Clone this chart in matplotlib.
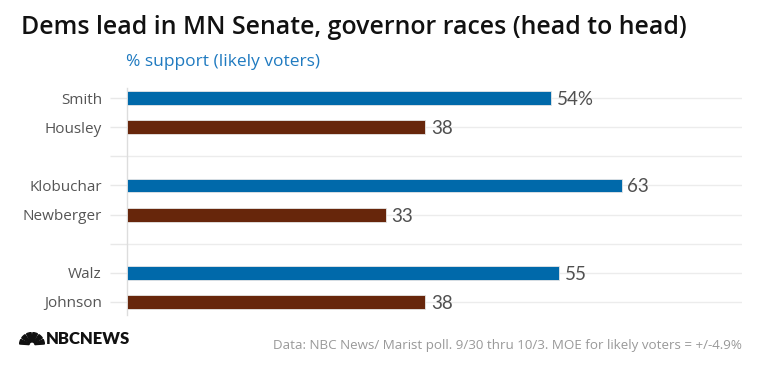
import matplotlib.pyplot as plt
from matplotlib.patches import Wedge
import numpy as np

# data
names = ['Smith', 'Housley', '', 'Klobuchar', 'Newberger', '', 'Walz', 'Johnson']
support = [54, 38, None, 63, 33, None, 55, 38]
party = ['D', 'R', None, 'D', 'R', None, 'D', 'R']
value_labels = ['54%', '38', '', '63', '33', '', '55', '38']

colors = {'D': '#0069aa', 'R': '#67260b'}

plt.rcParams['font.family'] = ['Open Sans', 'DejaVu Sans']

fig = plt.figure(figsize=(7.6, 3.71), dpi=100)
ax = fig.add_axes([127 / 760, 1 - 315 / 371, 615 / 760, 227 / 371])

ind = np.arange(len(names))
for i, v in enumerate(support):
    if v is None:
        continue
    ax.barh(i, v, height=0.48, color=colors[party[i]], edgecolor='#e6e6e6',
            linewidth=0.6, zorder=3)
    ax.text(v + 0.7, i + 0.05, value_labels[i], va='center', ha='left',
            fontsize=13.5, color='#505050', zorder=4,
            family=['Lato', 'DejaVu Sans'])

# Formatting
ax.set_xlim(0, 78.3)
ax.set_ylim(7.45, -0.35)
ax.set_yticks(ind)
ax.set_yticklabels(names, fontsize=11, color='#555555')
ax.tick_params(axis='y', length=12.5, color='#e8e8e8', width=1, pad=5.5)
ax.set_xticks([])
ax.grid(axis='y', color='#ececec', linewidth=1, zorder=0)
for side in ['top', 'right', 'bottom']:
    ax.spines[side].set_visible(False)
ax.spines['left'].set_color('#dddddd')
ax.spines['left'].set_linewidth(1)

# Titles
fig.text(21 / 760, 1 - 27 / 371, 'Dems lead in MN Senate, governor races (head to head)',
         fontsize=17.9, fontweight='semibold', color='#111111', va='center', ha='left')
fig.text(126 / 760, 1 - 62 / 371, '% support (likely voters)',
         fontsize=12.5, color='#1f7ac0', va='center', ha='left')

# Footer
fig.text(742 / 760, 1 - 345 / 371,
         'Data: NBC News/ Marist poll. 9/30 thru 10/3. MOE for likely voters = +/-4.9%',
         fontsize=9.6, color='#999999', va='center', ha='right')
fig.text(46 / 760, 1 - 339 / 371, 'NBCNEWS', fontsize=12, fontweight='heavy',
         color='#111111', va='center', ha='left', fontstretch='condensed',
         family=['Lato', 'DejaVu Sans'])

# peacock
logo = fig.add_axes([19 / 760, 1 - 346 / 371, 26 / 760, 14 / 371])
logo.set_xlim(-1.1, 1.1)
logo.set_ylim(-0.1, 1.1)
logo.axis('off')
for k in range(6):
    a0 = 180 - k * 30
    logo.add_patch(Wedge((0, 0), 1.05, a0 - 26, a0 - 4, width=0.8, color='#111111'))

fig.savefig('out.png', dpi=100)
